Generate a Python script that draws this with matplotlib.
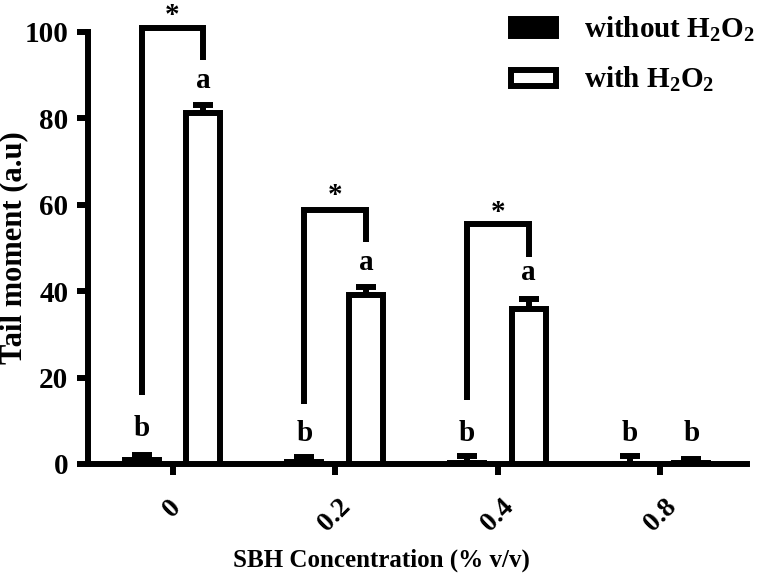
import matplotlib
matplotlib.use("Agg")
import matplotlib.pyplot as plt
import numpy as np
from matplotlib.patches import Patch

plt.rcParams['font.family'] = 'Liberation Serif'
plt.rcParams['font.weight'] = 'bold'
plt.rcParams['mathtext.fontset'] = 'custom'
plt.rcParams['mathtext.rm'] = 'Liberation Serif:bold'
plt.rcParams['mathtext.bf'] = 'Liberation Serif:bold'
plt.rcParams['mathtext.it'] = 'Liberation Serif:bold'

categories = ["0", "0.2", "0.4", "0.8"]
without_vals = [0.9, 0.5, 0.3, 0.0]
without_err = [1.2, 1.2, 1.6, 1.9]
with_vals = [81.3, 39.1, 35.9, 0.3]
with_err = [1.8, 1.9, 2.4, 0.8]
letters_without = ["b", "b", "b", "b"]
letters_with = ["a", "a", "a", "b"]
letter_y_without = [6.5, 5.4, 5.4, 5.4]
letter_y_with = [87.0, 44.9, 42.6, 5.4]
# significance brackets: (group index, top, left end, right end)
brackets = [(0, 100.8, 16.0, 93.5), (1, 58.8, 14.0, 51.4), (2, 55.6, 14.8, 47.9)]
star_y = [102.0, 60.3, 56.4]

fig = plt.figure(figsize=(7.58, 5.80), dpi=100)
ax = fig.add_axes([0.116, 0.2, 0.869, 0.745])

x = np.arange(len(categories))
off = 0.19
w = 0.21
lw = 4.3

ax.bar(x - off, without_vals, w, color='black', edgecolor='black', linewidth=lw, zorder=3)
ax.bar(x + off, with_vals, w, color='white', edgecolor='black', linewidth=lw, zorder=3)
ax.errorbar(x - off, without_vals, yerr=[np.zeros(4), without_err], fmt='none',
            ecolor='black', elinewidth=lw, capsize=7, capthick=lw, zorder=2, clip_on=False)
ax.errorbar(x + off, with_vals, yerr=[np.zeros(4), with_err], fmt='none',
            ecolor='black', elinewidth=lw, capsize=7, capthick=lw, zorder=2, clip_on=False)

for i in range(len(categories)):
    ax.text(x[i] - off, letter_y_without[i], letters_without[i], ha='center', va='baseline',
            fontsize=21, fontweight='bold')
    ax.text(x[i] + off, letter_y_with[i], letters_with[i], ha='center', va='baseline',
            fontsize=21, fontweight='bold')

for (g, top, left, right), sy in zip(brackets, star_y):
    ax.plot([x[g] - off, x[g] - off, x[g] + off, x[g] + off], [left, top, top, right],
            color='black', lw=lw, solid_joinstyle='miter', solid_capstyle='butt', clip_on=False, zorder=4)
    ax.text(x[g], sy, '*', ha='center', va='baseline', fontsize=21, fontweight='bold')

ax.set_xlim(-0.52, 3.53)
ax.set_ylim(0, 100)
ax.set_yticks([0, 20, 40, 60, 80, 100])
ax.set_xticks(x)
ax.set_xticklabels(categories, rotation=45, ha='center', va='top')
for s in ['top', 'right']:
    ax.spines[s].set_visible(False)
for s in ['left', 'bottom']:
    ax.spines[s].set_linewidth(lw)
ax.tick_params(axis='both', width=lw, length=8, labelsize=20, pad=6)
ax.tick_params(axis='y', labelsize=21)
ax.tick_params(axis='x', pad=14)
for lab in ax.get_xticklabels() + ax.get_yticklabels():
    lab.set_fontweight('bold')

fig.text(14 / 758, 1 - 248 / 580, 'Tail moment (a.u)', rotation=90, ha='center', va='center',
         fontsize=22, fontweight='bold')
fig.text(381 / 758, 1 - 560 / 580, 'SBH Concentration (% v/v)', ha='center', va='center',
         fontsize=18, fontweight='bold')

handles = [Patch(facecolor='black', edgecolor='black', linewidth=lw),
           Patch(facecolor='white', edgecolor='black', linewidth=lw)]
labels = [r'without H$_\mathbf{2}$O$_\mathbf{2}$', r'with H$_\mathbf{2}$O$_\mathbf{2}$']
leg = fig.legend(handles, labels, loc='upper left', bbox_to_anchor=(511 / 758, 1 - 15 / 580),
                 frameon=False, borderpad=0, borderaxespad=0,
                 fontsize=21, handlelength=1.55, handleheight=0.5, handletextpad=0.95,
                 labelspacing=0.72)
for t in leg.get_texts():
    t.set_fontweight('bold')

fig.savefig('out.png', dpi=100)
